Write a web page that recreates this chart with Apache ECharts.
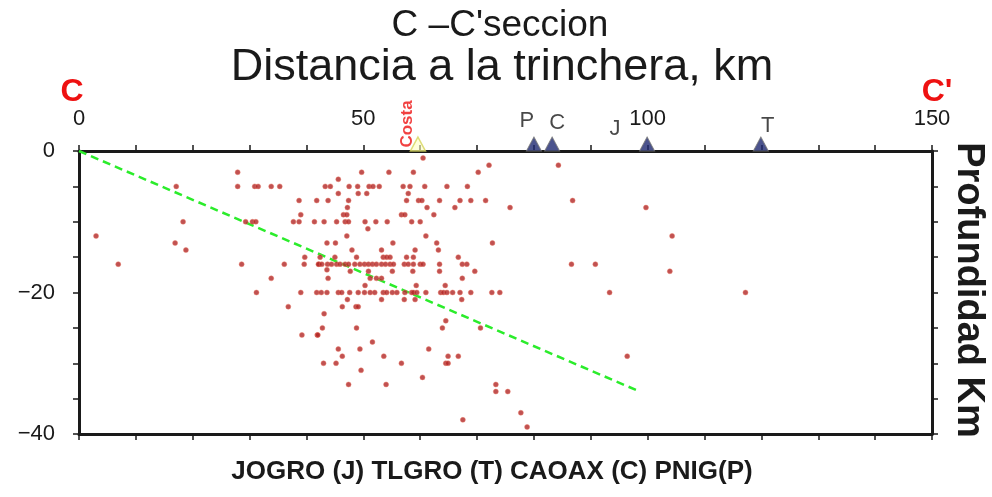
<!DOCTYPE html>
<html>
<head>
<meta charset="utf-8">
<script src="https://cdn.jsdelivr.net/npm/echarts@6/dist/echarts.min.js"></script>
<style>
html, body { margin: 0; padding: 0; background: #fff; }
#chart { width: 992px; height: 497px; }
</style>
</head>
<body>
<div id="chart"></div>
<script>
// sismos: [distancia a la trinchera km, profundidad km]
const quakes = [
  [3.0, -12], [6.9, -16], [17.1, -5], [16.9, -13], [18.3, -10], [18.8, -14],
  [27.9, -3], [27.9, -5], [30.9, -5], [31.5, -5], [33.8, -5], [35.3, -5],
  [29.3, -10], [30.5, -10], [31.1, -10], [37.7, -10], [38.7, -10],
  [38.7, -7], [39.0, -9], [41.8, -7], [41.4, -10],
  [28.6, -16], [36.1, -16], [39.6, -16], [42.2, -16],
  [39.7, -15], [33.8, -18], [31.2, -20], [39.0, -20], [41.8, -20],
  [36.8, -22], [39.2, -26], [41.9, -26],
  [49.7, -3], [54.5, -3], [45.6, -4],
  [43.3, -5], [44.2, -5], [47.5, -5], [49.0, -5], [51.0, -5], [51.7, -5], [52.8, -5], [57.0, -5],
  [45.6, -6], [49.1, -6], [50.6, -6], [57.9, -6],
  [43.8, -7], [47.4, -7], [57.6, -7],
  [47.2, -8],
  [46.5, -9], [47.1, -9], [56.7, -9], [57.3, -9],
  [43.1, -10], [45.3, -10], [46.8, -10], [47.4, -10], [50.3, -10], [52.2, -10], [54.2, -10], [58.5, -10],
  [50.8, -11], [47.1, -12],
  [43.6, -13], [45.1, -13], [55.2, -13],
  [48.0, -14], [53.2, -14],
  [42.4, -15], [45.0, -15], [48.8, -15], [53.5, -15], [54.1, -15], [54.7, -15], [57.6, -15], [58.8, -15],
  [42.1, -16], [42.7, -16], [43.7, -16], [44.4, -16], [45.3, -16], [45.9, -16], [46.8, -16],
  [47.4, -16], [48.5, -16], [49.4, -16], [50.2, -16], [50.9, -16], [51.6, -16], [52.3, -16],
  [53.2, -16], [53.9, -16], [54.7, -16], [55.3, -16], [57.2, -16], [57.9, -16], [58.8, -16],
  [43.6, -16.8], [47.7, -17], [50.9, -17], [55.1, -17],
  [43.8, -18], [51.2, -18], [52.3, -18], [53.2, -18],
  [50.3, -19],
  [42.6, -20], [43.6, -20], [45.6, -20], [46.2, -20], [47.6, -20], [49.1, -20], [50.2, -20],
  [51.2, -20], [52.0, -20], [53.5, -20], [54.1, -20], [55.1, -20], [55.9, -20], [57.3, -20], [58.5, -20],
  [47.2, -21], [53.2, -21], [57.2, -21],
  [46.3, -22], [48.7, -22], [49.1, -22],
  [43.1, -23],
  [42.8, -25], [48.8, -25],
  [42.0, -26],
  [51.6, -27],
  [45.6, -28], [49.4, -28],
  [46.3, -29], [53.6, -29],
  [43.0, -30], [45.2, -30], [56.7, -30],
  [49.6, -31],
  [47.4, -33], [54.0, -33],
  [60.5, -1], [72.1, -2], [58.8, -3], [70.2, -3],
  [58.2, -5], [60.8, -5], [64.7, -5], [68.3, -5],
  [59.7, -7], [60.3, -7], [63.4, -7], [67.0, -7], [68.9, -7], [71.5, -7],
  [61.2, -8], [66.1, -8], [75.8, -8],
  [62.4, -9], [60.0, -10], [61.0, -12],
  [62.9, -13], [72.7, -13],
  [59.1, -14], [63.2, -14],
  [66.7, -15],
  [60.0, -16], [60.5, -16], [63.4, -16], [67.4, -16], [68.2, -16],
  [58.7, -17], [63.4, -17], [69.6, -17],
  [67.4, -18],
  [59.3, -19], [64.4, -19],
  [58.8, -20], [59.4, -20], [61.0, -20], [63.6, -20], [64.1, -20], [64.7, -20],
  [65.7, -20], [67.0, -20], [68.9, -20], [72.6, -20], [74.0, -20],
  [67.3, -21], [59.1, -21],
  [64.5, -24], [63.9, -25], [70.6, -25],
  [61.5, -28], [64.9, -29], [66.7, -29],
  [64.5, -30], [64.9, -30],
  [60.4, -32],
  [73.3, -33], [73.3, -34], [75.4, -34],
  [67.5, -38], [77.7, -37], [78.8, -39],
  [84.3, -2], [86.8, -7], [99.7, -8], [104.3, -12], [86.6, -16], [90.8, -16],
  [103.9, -17], [93.3, -20], [117.2, -20], [96.4, -29]
]

// linea de la placa (trinchera -> fin)
const slabLine = [[0, 0], [98.6, -34]]

// estaciones
const stationNames = ['P', 'C', 'J', 'T']
const stationKm = [80.0, 83.2, 99.9, 119.9]
const stationLabelOffsets = [[-7, -30], [5, -28], [-32, -22], [7, -25]]
const coastName = 'Costa'
const coastKm = 59.6

const xMin = 0, xMax = 150, xStep = 10, xLabelStep = 50
const yMin = -40, yMax = 0, yStep = 5, yLabelStep = 20

const font = "'Liberation Sans', Arial, sans-serif"
const ink = '#1a1a1a'

const chart = echarts.init(document.getElementById('chart'))

function xAxisOpt(position, showLabels) {
  return {
    type: 'value',
    position: position,
    min: xMin,
    max: xMax,
    interval: xStep,
    axisLine: { show: true, onZero: false, lineStyle: { color: ink, width: 3 } },
    axisTick: { show: true, length: 6, lineStyle: { color: ink, width: 1.5 } },
    splitLine: { show: false },
    axisLabel: {
      show: showLabels,
      margin: 21,
      fontFamily: font,
      fontSize: 22,
      color: ink,
      formatter: v => (v % xLabelStep === 0 ? String(v) : '')
    }
  }
}

function yAxisOpt(position, showLabels) {
  return {
    type: 'value',
    position: position,
    min: yMin,
    max: yMax,
    interval: yStep,
    axisLine: { show: true, onZero: false, lineStyle: { color: ink, width: 3 } },
    axisTick: { show: true, length: 6, lineStyle: { color: ink, width: 1.5 } },
    splitLine: { show: false },
    axisLabel: {
      show: showLabels,
      margin: 24,
      fontFamily: font,
      fontSize: 22,
      color: ink,
      formatter: v => (v % yLabelStep === 0 ? (v < 0 ? '\u2212' + (-v) : String(v)) : '')
    }
  }
}

chart.setOption({
  animation: false,
  backgroundColor: '#fff',
  grid: { left: 79, right: 60, top: 151, bottom: 63, containLabel: false },
  xAxis: [xAxisOpt('top', true), xAxisOpt('bottom', false)],
  yAxis: [yAxisOpt('left', true), yAxisOpt('right', false)],
  graphic: [
    {
      type: 'text', x: 500, y: 26,
      style: { text: "C \u2013C'seccion", font: '37px ' + font, fill: ink, align: 'center', verticalAlign: 'middle' }
    },
    {
      type: 'text', x: 502, y: 68,
      style: { text: 'Distancia a la trinchera, km', font: '45px ' + font, fill: ink, align: 'center', verticalAlign: 'middle' }
    },
    {
      type: 'text', x: 72, y: 92,
      style: { text: 'C', font: 'bold 32px ' + font, fill: '#ee1111', align: 'center', verticalAlign: 'middle' }
    },
    {
      type: 'text', x: 937, y: 92,
      style: { text: "C'", font: 'bold 32px ' + font, fill: '#ee1111', align: 'center', verticalAlign: 'middle' }
    },
    {
      type: 'text', x: 968, y: 290, rotation: -Math.PI / 2,
      style: { text: 'Profundidad Km', font: 'bold 38px ' + font, fill: ink, align: 'center', verticalAlign: 'middle' }
    },
    {
      type: 'text', x: 492, y: 472,
      style: { text: 'JOGRO (J) TLGRO (T) CAOAX (C) PNIG(P)', font: 'bold 26px ' + font, fill: ink, align: 'center', verticalAlign: 'middle' }
    }
  ],
  series: [
    {
      name: 'placa',
      type: 'line',
      data: slabLine,
      symbol: 'none',
      lineStyle: { color: '#2bec2b', width: 2.5, type: [8, 5] },
      z: 3
    },
    {
      name: 'sismos',
      type: 'scatter',
      data: quakes,
      symbol: 'circle',
      symbolSize: 5,
      itemStyle: { color: '#b02525', borderColor: 'rgba(235,120,100,0.55)', borderWidth: 1 },
      z: 4
    },
    {
      name: 'costa',
      type: 'scatter',
      data: [[coastKm, 0]],
      symbol: 'triangle',
      symbolSize: [15, 14],
      symbolOffset: [0, -7],
      clip: false,
      itemStyle: { color: 'rgba(255,255,190,0.7)', borderColor: '#d6d45a', borderWidth: 1.5 },
      label: {
        show: true,
        formatter: coastName,
        position: 'inside',
        rotate: 90,
        offset: [20, -11],
        fontFamily: font,
        fontWeight: 'bold',
        fontSize: 17,
        color: '#ee1111'
      },
      z: 5
    },
    {
      name: 'estaciones',
      type: 'scatter',
      data: stationKm.map(km => [km, 0]),
      symbol: 'triangle',
      symbolSize: [15, 14],
      symbolOffset: [0, -7],
      clip: false,
      itemStyle: { color: '#1e2870', borderColor: '#777', borderWidth: 1 },
      z: 5
    },
    {
      name: 'nombres',
      type: 'scatter',
      data: stationKm.map((km, i) => ({
        value: [km, 0],
        label: { offset: stationLabelOffsets[i] }
      })),
      symbolSize: 1,
      clip: false,
      itemStyle: { color: 'rgba(0,0,0,0)' },
      label: {
        show: true,
        position: 'inside',
        formatter: p => stationNames[p.dataIndex],
        fontFamily: font,
        fontSize: 22,
        color: ink
      },
      z: 6
    }
  ]
})
</script>
</body>
</html>
